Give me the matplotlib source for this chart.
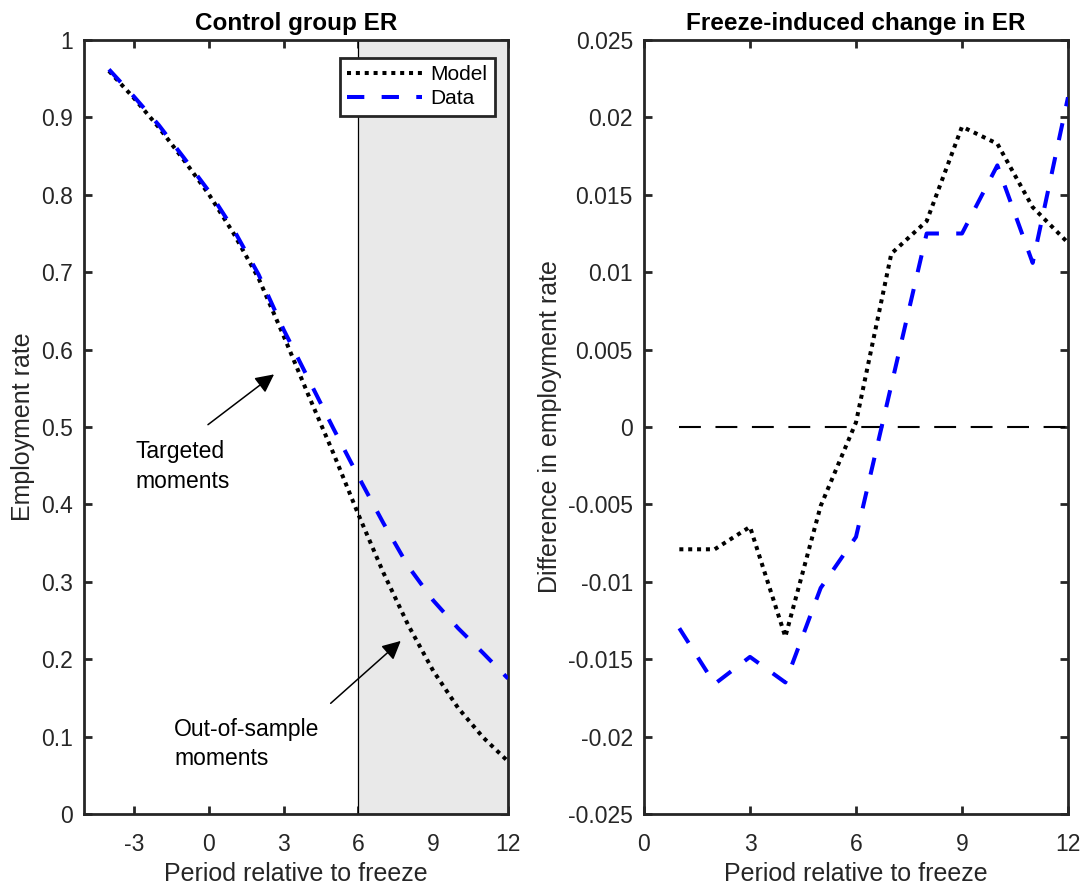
import matplotlib
matplotlib.use("Agg")
import matplotlib.pyplot as plt
from matplotlib.ticker import FuncFormatter

plt.rcParams["font.family"] = ["Liberation Sans", "DejaVu Sans"]
plt.rcParams["axes.unicode_minus"] = False

# control group employment rate, periods -4..12
periods_ctrl = list(range(-4, 13))
model_er = [0.960, 0.925, 0.887, 0.845, 0.801, 0.750, 0.692, 0.618, 0.541,
            0.466, 0.387, 0.312, 0.244, 0.185, 0.137, 0.099, 0.068]
data_er = [0.962, 0.927, 0.890, 0.848, 0.805, 0.755, 0.697, 0.626, 0.562,
           0.498, 0.436, 0.376, 0.320, 0.276, 0.240, 0.208, 0.175]

# freeze-induced change in employment rate, periods 1..12
periods_diff = list(range(1, 13))
model_diff = [-0.0079, -0.0079, -0.00645, -0.01355, -0.0051, 0.0003,
              0.0112, 0.0133, 0.0194, 0.0183, 0.0142, 0.0119]
data_diff = [-0.0130, -0.0166, -0.01485, -0.0165, -0.0104, -0.0071,
             0.0027, 0.0125, 0.0125, 0.0169, 0.0106, 0.0213]

ctrl_xticks = [-3, 0, 3, 6, 9, 12]
ctrl_yticks = [0, 0.1, 0.2, 0.3, 0.4, 0.5, 0.6, 0.7, 0.8, 0.9, 1]
diff_xticks = [0, 3, 6, 9, 12]
diff_yticks = [-0.025, -0.02, -0.015, -0.01, -0.005, 0, 0.005, 0.01, 0.015, 0.02, 0.025]

AX_COL = "#262626"
MODEL_STYLE = dict(color="black", lw=2.9, linestyle=(0, (1, 1.2)), dash_capstyle="butt", zorder=3)
DATA_STYLE = dict(color="#0000ff", lw=2.9, linestyle=(0, (4.3, 4.3)), dash_capstyle="butt", zorder=3)


def style_axes(ax):
    for sp in ax.spines.values():
        sp.set_linewidth(2.0)
        sp.set_color(AX_COL)
    ax.tick_params(direction="in", length=6, width=2.0, color=AX_COL,
                   labelsize=16.5, labelcolor=AX_COL, top=True, right=True)
    ax.tick_params(axis="x", pad=14)
    ax.tick_params(axis="y", pad=8)


fig = plt.figure(figsize=(10.85, 8.88), dpi=100)
ax1 = fig.add_axes([84 / 1085, 74 / 888, 424 / 1085, 774 / 888])
ax2 = fig.add_axes([644 / 1085, 74 / 888, 424 / 1085, 774 / 888])

# left panel: shaded out-of-sample window, then the two curves
ax1.axvspan(6, 12, facecolor="#e9e9e9", edgecolor="black", lw=0.9, zorder=1.8)
ax1.plot(periods_ctrl, model_er, label="Model", **MODEL_STYLE)
ax1.plot(periods_ctrl, data_er, label="Data", **DATA_STYLE)
ax1.set_xlim(-5, 12)
ax1.set_ylim(0, 1)
ax1.set_xticks(ctrl_xticks)
ax1.set_yticks(ctrl_yticks)
ax1.yaxis.set_major_formatter(FuncFormatter(lambda v, p: "%g" % round(v, 3)))
style_axes(ax1)
ax1.set_title("Control group ER", fontsize=17.5, fontweight="bold", pad=7)
ax1.set_xlabel("Period relative to freeze", fontsize=18, color=AX_COL, labelpad=4)
ax1.set_ylabel("Employment rate", fontsize=18, color=AX_COL, labelpad=4)

arrow = dict(arrowstyle="-|>", color="black", lw=1.1, mutation_scale=28, shrinkA=0, shrinkB=0)
ax1.text(-2.95, 0.449, "Targeted\nmoments", fontsize=16.5, ha="left", va="center", linespacing=1.35)
ax1.annotate("", xy=(2.62, 0.568), xytext=(-0.03, 0.503), arrowprops=arrow)
ax1.text(-1.39, 0.09, "Out-of-sample\nmoments", fontsize=16.5, ha="left", va="center", linespacing=1.35)
ax1.annotate("", xy=(7.70, 0.2236), xytext=(4.89, 0.143), arrowprops=arrow)

leg = ax1.legend(loc="upper right", bbox_to_anchor=(0.969, 0.977), borderaxespad=0,
                 fontsize=15, handlelength=3.6, handletextpad=0.4, borderpad=0.35,
                 labelspacing=0.25, fancybox=False, framealpha=1, edgecolor=AX_COL)
leg.get_frame().set_linewidth(2.0)
leg.set_zorder(5)

# right panel: zero reference line and the two difference series
ax2.plot([periods_diff[0], periods_diff[-1]], [0, 0], color="black", lw=1.5,
         linestyle=(0, (10.5, 7)), dash_capstyle="butt", zorder=2)
ax2.plot(periods_diff, model_diff, **MODEL_STYLE)
ax2.plot(periods_diff, data_diff, **DATA_STYLE)
ax2.set_xlim(0, 12)
ax2.set_ylim(-0.025, 0.025)
ax2.set_xticks(diff_xticks)
ax2.set_yticks(diff_yticks)
ax2.yaxis.set_major_formatter(FuncFormatter(lambda v, p: "%g" % round(v, 4)))
style_axes(ax2)
ax2.set_title("Freeze-induced change in ER", fontsize=17.5, fontweight="bold", pad=7)
ax2.set_xlabel("Period relative to freeze", fontsize=18, color=AX_COL, labelpad=4)
ax2.set_ylabel("Difference in employment rate", fontsize=18, color=AX_COL, labelpad=4)

fig.savefig("out.png", dpi=100)
